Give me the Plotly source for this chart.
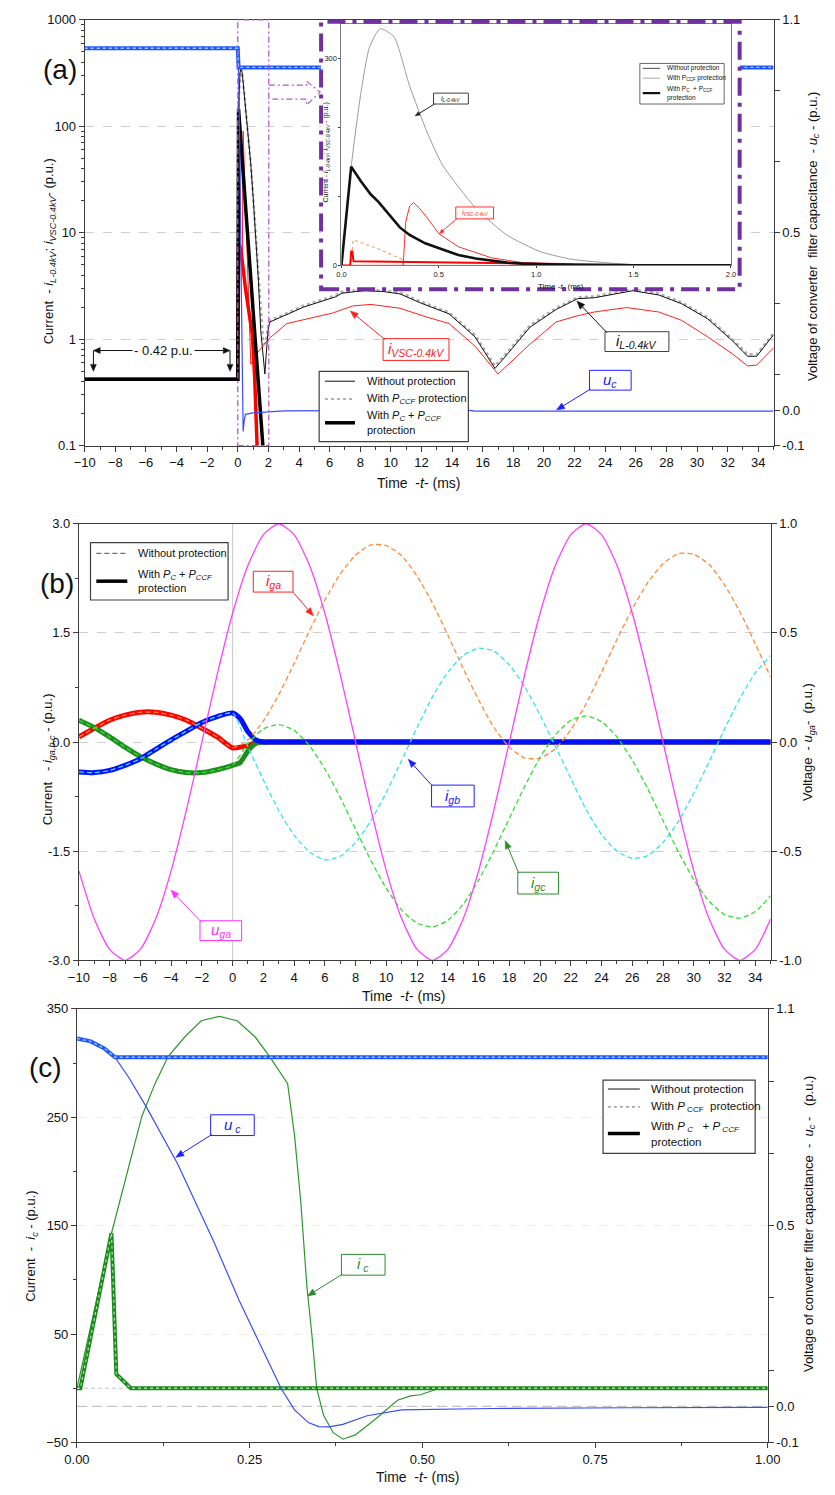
import math
import plotly.graph_objects as go

W, H = 835, 1495
FONT = "Liberation Sans, Arial, Helvetica, sans-serif"

# ======================= DATA =======================
# ---- panel (a), main plot (time in ms) ----
t_il = [-10, 0, 0.05, 0.1, 0.145, 0.2, 0.27, 0.35, 0.44, 0.52, 0.69, 0.85, 1.02, 1.18, 1.35, 1.5,
        1.65, 1.77, 1.85, 2.0, 2.1, 2.8, 4.3, 6.4, 6.8, 7.7, 8.3, 9.5, 10.6, 11.9, 13.8, 15.5,
        16.8, 17.6, 19.1, 20.8, 22.2, 23.3, 25.8, 27.5, 29.0, 30.7, 32.3, 33.3, 33.9, 35]
il_noprot = [0.42, 0.42, 143, 250, 317, 343, 331, 260, 193, 145, 83, 44, 20, 9, 3.5, 1.2,
             0.7, 0.47, 0.7, 1.3, 1.45, 1.6, 2.0, 2.5, 2.7, 2.8, 2.85, 2.8, 2.66, 2.2, 1.73, 1.05,
             0.53, 0.72, 1.3, 1.9, 2.4, 2.45, 2.85, 2.6, 2.15, 1.55, 0.97, 0.69, 0.69, 1.1]
il_pccf = [0.42, 0.42, 143, 250, 317, 343, 331, 260, 193, 145, 83, 44, 20, 9, 3.8, 1.6,
           0.95, 0.9, 1.0, 1.35, 1.5, 1.65, 2.06, 2.58, 2.78, 2.88, 2.93, 2.88, 2.74, 2.27, 1.78, 1.09,
           0.56, 0.75, 1.35, 1.96, 2.47, 2.52, 2.93, 2.68, 2.22, 1.6, 1.0, 0.72, 0.72, 1.14]
t_iv = [-10, 0, 0.05, 0.3, 0.35, 0.85, 1.2, 2.0, 3.2, 5.4, 6.2, 7.5, 8.7, 10.6, 12.3, 13.8, 15.5,
        17.0, 19.1, 20.8, 22.2, 23.3, 25.4, 27.5, 29.0, 30.7, 32.3, 33.3, 33.9, 35]
iv_noprot = [0.42, 0.42, 6, 6, 90, 0.58, 0.72, 1.0, 1.4, 1.66, 1.76, 2.05, 2.12, 1.95, 1.62, 1.4, 0.86,
             0.47, 0.9, 1.45, 1.66, 1.8, 1.98, 1.8, 1.5, 1.05, 0.73, 0.56, 0.57, 0.83]
t_ilp = [-10, 0, 0.05, 0.4, 0.8, 1.2, 1.6, 1.75]
il_prot = [0.42, 0.42, 145, 30, 5, 0.8, 0.12, 0.06]
t_ivp = [-10, 0, 0.05, 0.2, 0.5, 0.95, 1.1, 1.3]
iv_prot = [0.42, 0.42, 8, 7, 3, 1.1, 0.45, 0.07]
t_uc = [-10, 0, 0.05, 0.1, 0.15, 0.2, 0.25, 0.3, 0.35, 0.42, 0.5, 1.0, 3.0, 15.0, 15.5, 35]
uc_noprot = [1.02, 1.02, 0.97, 0.84, 0.68, 0.45, 0.26, 0.05, -0.06, -0.03, -0.012, -0.008, -0.002,
             0.0, -0.003, -0.003]
t_ucp = [-10, 0, 0.05, 35]
uc_prot = [1.02, 1.02, 0.966, 0.966]

# ---- panel (a), inset (0..2 ms, linear) ----
t_in_il = [0, 0.05, 0.1, 0.145, 0.2, 0.27, 0.35, 0.44, 0.52, 0.69, 0.85, 1.02, 1.18, 1.35, 1.51, 1.75, 2.0]
in_il_noprot = [0, 143, 250, 317, 343, 331, 260, 193, 145, 83, 44, 20, 9, 4, 1, 0.3, 0]
t_in_ilp = [0, 0.05, 0.1, 0.15, 0.19, 0.25, 0.3, 0.35, 0.43, 0.52, 0.6, 0.69, 0.77, 0.85, 0.93, 1.02,
            1.2, 1.5, 2.0]
in_il_prot = [0, 143, 122, 103, 92, 72, 55, 44, 32, 23, 15, 10, 6.5, 4, 2.5, 1.5, 0.5, 0.1, 0]
t_in_iv = [0, 0.317, 0.33, 0.35, 0.37, 0.4, 0.44, 0.5, 0.6, 0.77, 0.93, 1.1, 1.3, 2.0]
in_iv_noprot = [0, 0, 63, 86, 91, 83, 69, 46, 27, 11, 4, 1.5, 0.3, 0]
t_in_ivp = [0, 0.045, 0.05, 0.056, 0.062, 0.3, 0.6, 1.0, 1.5, 2.0]
in_iv_prot = [0, 0, 20, 20, 6, 5, 3.5, 2, 0.5, 0]
t_in_ivc = [0.05, 0.06, 0.18, 0.31, 0.32]
in_iv_pccf = [5, 37, 25, 9, 0]

# ---- panel (b) ----
t_b = [-10, -9, -8, -7, -6, -5, -4, -3, -2, -1, 0, 1, 2, 3, 4, 5, 6, 7, 8, 9, 10, 11, 12, 13, 14, 15,
       16, 17, 18, 19, 20, 21, 22, 23, 24, 25, 26, 27, 28, 29, 30, 31, 32, 33, 34, 35]
iga_noprot = [0.07, 0.19, 0.30, 0.37, 0.41, 0.41, 0.37, 0.30, 0.19, 0.07, -0.08,
              0.03, 0.29, 0.65, 1.08, 1.53, 1.95, 2.31, 2.57, 2.71, 2.70, 2.56, 2.28, 1.91, 1.47, 1.01,
              0.58, 0.20, -0.07, -0.22, -0.22, -0.09, 0.17, 0.53, 0.96, 1.41, 1.83, 2.19, 2.45, 2.59,
              2.58, 2.44, 2.16, 1.79, 1.35, 0.89]
igb_noprot = [-0.41, -0.42, -0.39, -0.32, -0.23, -0.10, 0.03, 0.15, 0.27, 0.35, 0.40,
              -0.07, -0.52, -0.94, -1.28, -1.51, -1.62, -1.57, -1.38, -1.08, -0.69, -0.25, 0.20, 0.62,
              0.96, 1.19, 1.29, 1.25, 1.06, 0.76, 0.37, -0.06, -0.50, -0.93, -1.27, -1.50, -1.60, -1.56,
              -1.38, -1.09, -0.70, -0.27, 0.18, 0.60, 0.95, 1.19]
igc_noprot = [0.30, 0.20, 0.07, -0.07, -0.20, -0.30, -0.38, -0.42, -0.42, -0.38, -0.32,
              -0.02, 0.18, 0.24, 0.16, -0.05, -0.37, -0.76, -1.20, -1.63, -2.01, -2.31, -2.49, -2.54,
              -2.45, -2.23, -1.90, -1.49, -1.05, -0.61, -0.21, 0.10, 0.30, 0.36, 0.28, 0.07, -0.25, -0.64,
              -1.08, -1.51, -1.89, -2.19, -2.37, -2.42, -2.33, -2.11]
uga = [-0.59, -0.81, -0.95, -1.00, -0.95, -0.81, -0.59, -0.31, 0.00, 0.31, 0.59, 0.81, 0.95, 1.00,
       0.95, 0.81, 0.59, 0.31, 0.00, -0.31, -0.59, -0.81, -0.95, -1.00, -0.95, -0.81, -0.59, -0.31,
       0.00, 0.31, 0.59, 0.81, 0.95, 1.00, 0.95, 0.81, 0.59, 0.31, 0.00, -0.31, -0.59, -0.81, -0.95,
       -1.00, -0.95, -0.81]
t_bp = [-10, -9, -8, -7, -6, -5, -4, -3, -2, -1, 0, 0.5, 1.0, 1.5, 2.0, 2.5, 35]
iga_prot = [0.07, 0.19, 0.30, 0.37, 0.41, 0.41, 0.37, 0.30, 0.19, 0.07, -0.08, -0.07, -0.05, -0.01, 0, 0, 0]
igb_prot = [-0.41, -0.42, -0.39, -0.32, -0.23, -0.10, 0.03, 0.15, 0.27, 0.35, 0.40, 0.32, 0.14, 0.03, 0, 0, 0]
igc_prot = [0.30, 0.20, 0.07, -0.07, -0.20, -0.30, -0.38, -0.42, -0.42, -0.38, -0.32, -0.28, -0.12, -0.02, 0, 0, 0]

# ---- panel (c) ----
t_c_ic = [0, 0.05, 0.094, 0.113, 0.132, 0.156, 0.18, 0.206, 0.232, 0.258, 0.28, 0.298, 0.305, 0.315,
          0.324, 0.333, 0.34, 0.347, 0.357, 0.371, 0.385, 0.403, 0.431, 0.464, 0.483, 0.497, 0.525, 1.0]
ic_noprot = [0, 143, 251, 281, 306, 324, 339, 343, 339, 324, 305, 288, 281, 233,
             172, 93, 50, 0, -25, -41, -47, -43, -29, -11, -7, -6, 0, 0]
t_c_icp = [0, 0.005, 0.05, 0.057, 0.078, 1.0]
ic_prot = [0, 0, 143, 13, 0, 0]
t_c_uc = [0, 0.02, 0.04, 0.055, 0.075, 0.1, 0.146, 0.198, 0.235, 0.296, 0.315, 0.335, 0.35, 0.365,
          0.385, 0.42, 0.47, 0.6, 0.8, 1.0]
uc_c_noprot = [1.018, 1.01, 0.99, 0.966, 0.91, 0.83, 0.67, 0.456, 0.292, 0.048, -0.01, -0.045,
               -0.056, -0.057, -0.05, -0.026, -0.01, -0.006, -0.004, -0.003]
t_c_ucp = [0, 0.02, 0.04, 0.055, 1.0]
uc_c_prot = [1.018, 1.01, 0.99, 0.966, 0.966]

# tick labels
a_left_ticks = [0.1, 1, 10, 100, 1000]
a_left_text = ["0.1", "1", "10", "100", "1000"]
volt_ticks = [-0.1, 0, 0.1, 0.3, 0.5, 0.7, 0.9, 1.1]
volt_text = ["-0.1", "0.0", "", "", "0.5", "", "", "1.1"]
b_left_ticks = [-3, -1.5, 0, 1.5, 3]
b_left_text = ["-3.0", "-1.5", "0.0", "1.5", "3.0"]
b_right_ticks = [-1, -0.5, 0, 0.5, 1]
b_right_text = ["-1.0", "-0.5", "0.0", "0.5", "1.0"]
c_left_ticks = [-50, 50, 150, 250, 350]
c_x_ticks = [0, 0.25, 0.5, 0.75, 1.0]
c_x_text = ["0.00", "0.25", "0.50", "0.75", "1.00"]
in_x_ticks = [0, 0.5, 1.0, 1.5, 2.0]
in_x_text = ["0.0", "0.5", "1.0", "1.5", "2.0"]
in_y_ticks = [0, 100, 200, 300]
in_y_text = ["0", "", "", "300"]


# ======================= HELPERS =======================
def px(x):
    return x / W


def py(y):
    return 1 - y / H


shapes = []
annots = []


def hline(x0, x1, y, color, width, dash="solid"):
    shapes.append(dict(type="line", xref="paper", yref="paper", x0=px(x0), x1=px(x1), y0=py(y), y1=py(y),
                       line=dict(color=color, width=width, dash=dash), layer="above"))


def rect(x0, y0, x1, y1, color, width=1, fill="white", dash="solid"):
    shapes.append(dict(type="rect", xref="paper", yref="paper", x0=px(x0), x1=px(x1), y0=py(y1), y1=py(y0),
                       line=dict(color=color, width=width, dash=dash), fillcolor=fill, layer="above"))


def text(x, y, s, size, color="#111111", xanchor="left", angle=0):
    annots.append(dict(xref="paper", yref="paper", x=px(x), y=py(y), text=s, showarrow=False,
                       xanchor=xanchor, yanchor="middle", textangle=angle,
                       font=dict(family=FONT, size=size, color=color)))


def arrow(x0, y0, x1, y1, color, width=1.0, L=8, hw=3.2):
    dx, dy = x1 - x0, y1 - y0
    n = math.hypot(dx, dy)
    ux, uy = dx / n, dy / n
    bx, by = x1 - ux * L, y1 - uy * L
    shapes.append(dict(type="line", xref="paper", yref="paper", x0=px(x0), y0=py(y0), x1=px(bx), y1=py(by),
                       line=dict(color=color, width=width), layer="above"))
    p1 = (bx - uy * hw, by + ux * hw)
    p2 = (bx + uy * hw, by - ux * hw)
    path = "M %f,%f L %f,%f L %f,%f Z" % (px(x1), py(y1), px(p1[0]), py(p1[1]), px(p2[0]), py(p2[1]))
    shapes.append(dict(type="path", xref="paper", yref="paper", path=path, fillcolor=color,
                       line=dict(color=color, width=0.5), layer="above"))


def label_box(x0, y0, x1, y1, s, color, size, start, tip, bcolor=None):
    rect(x0, y0, x1, y1, bcolor or color, 1)
    text((x0 + x1) / 2, (y0 + y1) / 2, s, size, color, xanchor="center")
    arrow(start[0], start[1], tip[0], tip[1], color, 1, L=max(5, size * 0.55), hw=max(2, size * 0.22))


def axis(**kw):
    base = dict(showline=True, linecolor="#3c3c3c", linewidth=1, ticks="outside", ticklen=5,
                tickcolor="#3c3c3c", tickwidth=1, showgrid=False, zeroline=False,
                tickfont=dict(family=FONT, size=13, color="#111111"))
    base.update(kw)
    return base


fig = go.Figure()


def line(x, y, xa, ya, color, width, dash="solid", shape="linear"):
    fig.add_trace(go.Scatter(x=x, y=y, xaxis=xa, yaxis=ya, mode="lines", showlegend=False,
                             hoverinfo="skip",
                             line=dict(color=color, width=width, dash=dash, shape=shape, smoothing=0.6)))


# ======================= PANEL (a) =======================
line(t_il, il_pccf, "x", "y", "#b0b0b0", 2.6, "dot")
line(t_il, il_noprot, "x", "y", "#111111", 1.0)
line(t_iv, iv_noprot, "x", "y", "#ff2020", 1.0)
line(t_ivp, iv_prot, "x", "y", "#ff0000", 3.5)
line(t_ilp, il_prot, "x", "y", "#000000", 3.5)
line(t_uc, uc_noprot, "x", "y2", "#3a4cff", 1.2)
line(t_ucp, uc_prot, "x", "y2", "#1e56ff", 4.0)
line(t_ucp, uc_prot, "x", "y2", "#9fc4ff", 1.4, "dot")

# cover (white) behind the inset
fig.add_trace(go.Scatter(x=[None], y=[None], xaxis="x2", yaxis="y3", showlegend=False, hoverinfo="skip"))

# inset
line(t_in_il, in_il_noprot, "x3", "y4", "#9a9a9a", 1.0, shape="spline")
line(t_in_ivc, in_iv_pccf, "x3", "y4", "#f4a06a", 1.2, "dot")
line(t_in_iv, in_iv_noprot, "x3", "y4", "#ff3030", 1.0)
line(t_in_ivp, in_iv_prot, "x3", "y4", "#ff0000", 2.0)
line(t_in_ilp, in_il_prot, "x3", "y4", "#111111", 2.6)

# ======================= PANEL (b) =======================
line(t_bp, iga_prot, "x4", "y5", "#ff0000", 5, shape="spline")
line(t_bp, igc_prot, "x4", "y5", "#1e8c1e", 5, shape="spline")
line(t_bp, igb_prot, "x4", "y5", "#0010ff", 5, shape="spline")
line(t_b, iga_noprot, "x4", "y5", "#ff8a3a", 1.3, "5px,3px", "spline")
line(t_b, igb_noprot, "x4", "y5", "#33e3f0", 1.3, "5px,3px", "spline")
line(t_b, igc_noprot, "x4", "y5", "#33dd33", 1.3, "5px,3px", "spline")
line(t_b, uga, "x4", "y6", "#ff40ff", 1.3, shape="spline")

# ======================= PANEL (c) =======================
line(t_c_ic, ic_noprot, "x5", "y7", "#2e962e", 1.2)
line(t_c_icp, ic_prot, "x5", "y7", "#1a8a1a", 4.0)
line(t_c_icp, ic_prot, "x5", "y7", "#9be09b", 1.3, "dot")
line(t_c_uc, uc_c_noprot, "x5", "y8", "#3a4cff", 1.2)
line(t_c_ucp, uc_c_prot, "x5", "y8", "#1e56ff", 4.0)
line(t_c_ucp, uc_c_prot, "x5", "y8", "#9fc4ff", 1.4, "dot")

minor_log = [m * 10 ** e for e in range(-1, 3) for m in range(2, 10)]
minor_common = dict(ticks="outside", ticklen=3, tickcolor="#3c3c3c", showgrid=False)
no_axis = dict(showline=False, showticklabels=False, ticks="", showgrid=False, zeroline=False)

fig.update_layout(
    width=W, height=H, margin=dict(l=0, r=0, t=0, b=0),
    paper_bgcolor="white", plot_bgcolor="white", showlegend=False,
    font=dict(family=FONT, color="#111111"),
    # panel a
    xaxis=axis(domain=[px(74), px(785)], range=[-10, 35], anchor="y", mirror=True,
               tick0=-10, dtick=2, minor=dict(dtick=1, tick0=0, **minor_common)),
    yaxis=axis(domain=[py(443), py(13)], type="log", range=[-1, 3], anchor="x",
               tickmode="array", tickvals=a_left_ticks, ticktext=a_left_text,
               showgrid=True, gridcolor="#cfcfcf", griddash="dash",
               minor=dict(tickmode="array", tickvals=minor_log, **minor_common)),
    yaxis2=axis(domain=[py(443), py(13)], range=[-0.1, 1.1], overlaying="y", side="right", anchor="x",
                tickmode="array", tickvals=volt_ticks, ticktext=volt_text),
    # cover
    xaxis2=dict(domain=[px(318), px(750)], range=[0, 1], anchor="y3", **no_axis),
    yaxis3=dict(domain=[py(285), py(15)], range=[0, 1], anchor="x2", **no_axis),
    # inset
    xaxis3=axis(domain=[px(339), px(741)], range=[0, 2], anchor="y4", mirror=True, linecolor="#7a7a7a",
                tickmode="array", tickvals=in_x_ticks, ticktext=in_x_text, ticklen=2,
                tickfont=dict(family=FONT, size=7.5, color="#222")),
    yaxis4=axis(domain=[py(261), py(17)], range=[0, 350], anchor="x3", mirror=True, linecolor="#7a7a7a",
                tickmode="array", tickvals=in_y_ticks, ticktext=in_y_text, ticklen=2,
                tickfont=dict(family=FONT, size=7.5, color="#222")),
    # panel b
    xaxis4=axis(domain=[px(68), px(782)], range=[-10, 35], anchor="y5", mirror=True,
                tick0=-10, dtick=2, minor=dict(dtick=1, tick0=0, **minor_common)),
    yaxis5=axis(domain=[py(963), py(522)], range=[-3, 3], anchor="x4",
                tickmode="array", tickvals=b_left_ticks, ticktext=b_left_text,
                showgrid=True, gridcolor="#cfcfcf", griddash="dash",
                minor=dict(dtick=0.75, tick0=0, **minor_common)),
    yaxis6=axis(domain=[py(963), py(522)], range=[-1, 1], overlaying="y5", side="right", anchor="x4",
                tickmode="array", tickvals=b_right_ticks, ticktext=b_right_text),
    # panel c
    xaxis5=axis(domain=[px(66), px(779)], range=[0, 1], anchor="y7", mirror=True,
                tickmode="array", tickvals=c_x_ticks, ticktext=c_x_text,
                minor=dict(dtick=0.125, tick0=0, **minor_common)),
    yaxis7=axis(domain=[py(1450), py(1012)], range=[-50, 350], anchor="x5",
                tickmode="array", tickvals=c_left_ticks,
                showgrid=True, gridcolor="#ececec", griddash="dash",
                minor=dict(dtick=50, tick0=0, **minor_common)),
    yaxis8=axis(domain=[py(1450), py(1012)], range=[-0.1, 1.1], overlaying="y7", side="right", anchor="x5",
                tickmode="array", tickvals=volt_ticks, ticktext=volt_text),
)

# ---------- decorations panel (a) ----------
PURPLE = "#7030a0"
LPURPLE = "#b05cc8"
shapes.append(dict(type="rect", xref="paper", yref="paper", x0=px(232), x1=px(264), y0=py(443), y1=py(13),
                   line=dict(color=LPURPLE, width=1.3, dash="6px,3px,2px,3px"), fillcolor="rgba(0,0,0,0)",
                   layer="above"))
shapes.append(dict(type="rect", xref="paper", yref="paper", x0=px(318), x1=px(750), y0=py(285), y1=py(15),
                   line=dict(color=PURPLE, width=4, dash="18px,7px,4px,7px"), fillcolor="rgba(0,0,0,0)",
                   layer="above"))
arr_pts = [(264, 79), (303, 79), (303, 75), (317, 86), (303, 99), (303, 93), (264, 93)]
arr_path = "M " + " L ".join("%f,%f" % (px(a), py(b)) for a, b in arr_pts)
shapes.append(dict(type="path", xref="paper", yref="paper", path=arr_path,
                   line=dict(color=LPURPLE, width=1.2, dash="6px,3px,2px,3px"), layer="above"))

# 0.42 p.u. dimension
arrow(157, 347, 83, 347, "#111", 1, L=7, hw=3)
arrow(157, 347, 224, 347, "#111", 1, L=7, hw=3)
arrow(83, 347, 83, 368, "#111", 1, L=7, hw=3)
arrow(224, 347, 224, 368, "#111", 1, L=7, hw=3)
annots.append(dict(xref="paper", yref="paper", x=px(155), y=py(347), text="- 0.42 p.u.", showarrow=False,
                   bgcolor="white", xanchor="center", yanchor="middle",
                   font=dict(family=FONT, size=13, color="#111")))

label_box(382, 335, 450, 357, "<i>i</i><sub><i>VSC-0.4kV</i></sub>", "#ff2020", 15, (384, 336), (348, 307))
label_box(611, 328, 677, 348, "<i>i</i><sub><i>L-0.4kV</i></sub>", "#111111", 15, (613, 329), (582, 297),
          bcolor="#404040")
label_box(595, 367, 638, 387, "<i>u</i><sub><i>c</i></sub>", "#2020ff", 15, (596, 386), (561, 407))

# legend (a)
rect(316, 368, 470, 439, "#404040", 1.2)
hline(322, 353, 378, "#111", 1)
text(363, 378, "Without protection", 11)
hline(322, 353, 396, "#999", 1.5, "dot")
text(363, 396, "With <i>P</i><sub><i>CCF</i></sub> protection", 11)
hline(322, 353, 420, "#000", 3.5)
text(363, 413, "With <i>P</i><sub><i>C</i></sub> + <i>P</i><sub><i>CCF</i></sub>", 11)
text(363, 427, "protection", 11)

# inset texts
label_box(434, 87, 470, 98, "<i>i</i><sub><i>L-0.4kV</i></sub>", "#222222", 7, (435, 98), (415, 110),
          bcolor="#404040")
label_box(457, 202, 496, 214, "<i>i</i><sub><i>VSC-0.4kV</i></sub>", "#ff3030", 7, (458, 214), (440, 229))
rect(647, 57, 734, 98, "#404040", 0.8)
hline(650, 668, 62, "#222", 0.8)
text(673, 62, "Without protection", 6.5)
hline(650, 668, 72, "#c4c4c4", 1.4)
text(673, 72, "With P<sub>CCF</sub> protection", 6.5)
hline(650, 668, 87, "#111", 2.2)
text(673, 83, "With P<sub>C</sub>  + P<sub>CCF</sub>", 6.5)
text(673, 92, "protection", 6.5)
text(540, 282, "Time -<i>t</i>- (ms)", 8)
text(323, 147, "Current - <i>i</i><sub><i>L-0.4kV</i></sub>; <i>i</i><sub><i>VSC-0.4kV</i></sub> - (p.u.)", 7,
     xanchor="center", angle=-90)

# axis titles (a)
text(49, 63, "(a)", 28, xanchor="center")
text(38, 247, "Current  - <i>i</i><sub><i>L-0.4kV</i></sub>; <i>i</i><sub><i>VSC-0.4kV</i></sub>- (p.u.)", 13,
     xanchor="center", angle=-90)
text(826, 232, "Voltage of converter  filter capacitance  - <i>u</i><sub><i>c</i></sub> - (p.u.)", 13,
     xanchor="center", angle=-90)
text(419, 481, "Time  -<i>t</i>- (ms)", 14, xanchor="center")

# ---------- decorations panel (b) ----------
shapes.append(dict(type="line", xref="x4", yref="y5", x0=0, x1=0, y0=-3, y1=3,
                   line=dict(color="#c8c8c8", width=1), layer="below"))
rect(80, 541, 222, 599, "#404040", 1.2)
hline(86, 118, 552, "#707070", 1.3, "5px,3px")
text(127, 552, "Without protection", 11)
hline(86, 118, 580, "#000", 3.5)
text(127, 574, "With <i>P</i><sub><i>C</i></sub> + <i>P</i><sub><i>CCF</i></sub>", 11)
text(127, 587, "protection", 11)
label_box(248, 570, 289, 591, "<i>i</i><sub><i>ga</i></sub>", "#ff2020", 15, (289, 591), (310, 615))
label_box(432, 786, 476, 808, "<i>i</i><sub><i>gb</i></sub>", "#2020ff", 15, (433, 787), (408, 760))
label_box(521, 874, 563, 896, "<i>i</i><sub><i>gc</i></sub>", "#2e8b2e", 15, (522, 875), (508, 842))
label_box(193, 923, 236, 943, "<i>u</i><sub><i>ga</i></sub>", "#ff33ff", 15, (194, 924), (163, 892))
text(45, 582, "(b)", 28, xanchor="center")
text(37, 760, "Current   - <i>i</i><sub><i>ga,b,c</i></sub> - (p.u.)", 13, xanchor="center", angle=-90)
text(821, 742, "Voltage  - <i>u</i><sub><i>ga</i></sub>-  (p.u.)", 13, xanchor="center", angle=-90)
text(403, 999, "Time  -<i>t</i>- (ms)", 14, xanchor="center")

# ---------- decorations panel (c) ----------
shapes.append(dict(type="line", xref="x5", yref="y7", x0=0, x1=1, y0=0, y1=0,
                   line=dict(color="#c4c4c4", width=1, dash="4px,3px"), layer="below"))
shapes.append(dict(type="line", xref="x5", yref="y8", x0=0, x1=1, y0=0, y1=0,
                   line=dict(color="#b8b8b8", width=1, dash="10px,5px"), layer="below"))
rect(609, 1084, 766, 1158, "#404040", 1.2)
hline(614, 647, 1093, "#111", 1)
text(656, 1093, "Without protection", 11.5)
hline(614, 647, 1111, "#888", 1.4, "dot")
text(656, 1111, "With <i>P</i><sub> CCF</sub>  protection", 11.5)
hline(614, 647, 1138, "#000", 3.5)
text(656, 1131, "With <i>P</i><sub> <i>C</i></sub>   + <i>P</i><sub> <i>CCF</i></sub>", 11.5)
text(656, 1146, "protection", 11.5)
label_box(204, 1119, 249, 1140, "<i>u</i><sub> <i>c</i></sub>", "#2020ff", 15, (205, 1139), (168, 1162))
label_box(339, 1260, 384, 1281, "<i>i</i><sub> <i>c</i></sub>", "#2e8b2e", 15, (340, 1280), (304, 1302))
text(34, 1071, "(c)", 28, xanchor="center")
text(19, 1252, "Current  -  <i>i</i><sub><i>c</i></sub> - (p.u.)", 13, xanchor="center", angle=-90)
text(822, 1229, "Voltage of converter filter capacitance  -  <i>u</i><sub><i>c</i></sub> -   (p.u.)", 13,
     xanchor="center", angle=-90)
text(417, 1485, "Time  -<i>t</i>- (ms)", 14, xanchor="center")

fig.update_layout(shapes=shapes, annotations=annots)
fig.write_html("out.html", config={"displayModeBar": False},
               post_script="document.body.style.margin='0px';")
